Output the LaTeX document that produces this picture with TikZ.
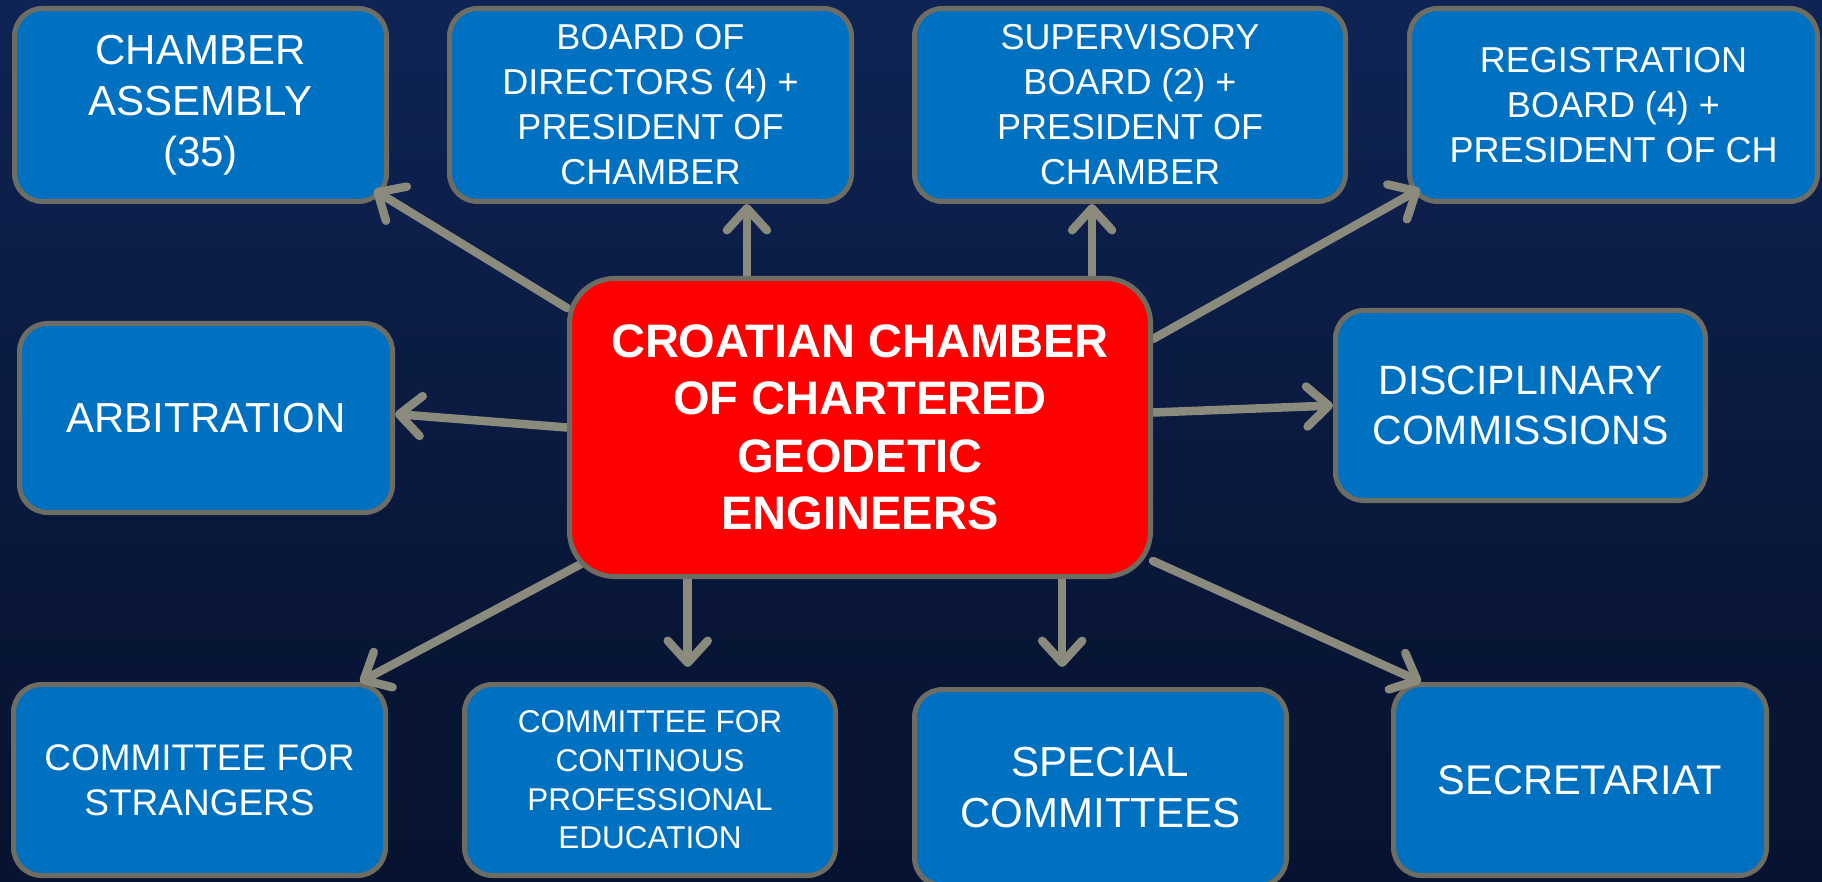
\documentclass[tikz,border=0pt]{standalone}
\usepackage{fontspec}
\setmainfont{Liberation Sans}
\usetikzlibrary{arrows.meta,calc}
\definecolor{boxblue}{HTML}{0070C0}
\definecolor{bordergray}{HTML}{6E6D63}
\definecolor{arrowgray}{HTML}{8A8A7D}
\definecolor{bgtop}{HTML}{14306A}
\definecolor{bgmid}{HTML}{0E2250}
\definecolor{bgbot}{HTML}{050E26}
\definecolor{ctrred}{HTML}{FF0000}
\pgfdeclarelayer{bg}
\pgfdeclarelayer{boxes}
\pgfdeclarelayer{arrows}
\pgfsetlayers{bg,boxes,arrows,main}
\pgfdeclareverticalshading{bgshade}{100bp}{color(0bp)=(bgbot); color(40bp)=(bgbot!60!bgmid); color(70bp)=(bgmid); color(100bp)=(bgtop)}
\tikzset{
  box/.style={draw=bordergray, line width=5pt, fill=boxblue, rounded corners=28pt,
    text=white, align=center, inner sep=0pt, font=\fontsize{36}{45}\selectfont},
  bigtext/.style={font=\fontsize{42}{51}\selectfont},
  centre/.style={draw=bordergray, line width=5pt, fill=ctrred, rounded corners=45pt,
    text=white, align=center, inner sep=0pt, font=\fontsize{47}{57.5}\selectfont\bfseries},
  arr/.style={draw=arrowgray, line width=8.5pt, line cap=round,
    -{Straight Barb[length=22pt,width=40pt,round]}}
}
\begin{document}
\begin{tikzpicture}[x=1pt,y=-1pt]
\useasboundingbox (0,0) rectangle (1822,882);
\begin{pgfonlayer}{bg}
  \shade[shading=bgshade] (0,0) rectangle (1822,882);
\end{pgfonlayer}
\begin{pgfonlayer}{boxes}
  \node[box, bigtext, minimum width=372pt, minimum height=193pt] (ca) at (200.5,105) {CHAMBER\\ASSEMBLY\\(35)};
  \node[box, minimum width=402pt, minimum height=193pt] (bod) at (650.5,105) {BOARD OF\\DIRECTORS (4) +\\PRESIDENT OF\\CHAMBER};
  \node[box, minimum width=431pt, minimum height=193pt] (sup) at (1130,105) {SUPERVISORY\\BOARD (2) +\\PRESIDENT OF\\CHAMBER};
  \node[box, minimum width=408pt, minimum height=193pt] (reg) at (1613.5,105) {REGISTRATION\\BOARD (4) +\\PRESIDENT OF CH};
  \node[box, bigtext, minimum width=373pt, minimum height=189pt] (arb) at (206,418) {ARBITRATION};
  \node[box, font=\fontsize{41}{50}\selectfont, minimum width=370pt, minimum height=190pt] (dis) at (1520.5,405.5) {DISCIPLINARY\\COMMISSIONS};
  \node[box, font=\fontsize{37}{45}\selectfont, minimum width=372pt, minimum height=191pt] (cfs) at (199.5,780) {COMMITTEE FOR\\STRANGERS};
  \node[box, font=\fontsize{31.5}{38.7}\selectfont, minimum width=371pt, minimum height=191pt] (cpe) at (650,780) {COMMITTEE FOR\\CONTINOUS\\PROFESSIONAL\\EDUCATION};
  \node[box, bigtext, minimum width=372pt, minimum height=196pt] (spe) at (1100.5,787.5) {SPECIAL\\COMMITTEES};
  \node[box, font=\fontsize{41.5}{50}\selectfont, minimum width=373pt, minimum height=191pt] (sec) at (1580,780) {SECRETARIAT};
\end{pgfonlayer}
\node[centre, minimum width=581pt, minimum height=298pt] (ctr) at (860,427.5) {CROATIAN CHAMBER\\OF CHARTERED\\GEODETIC\\ENGINEERS};
\begin{pgfonlayer}{arrows}
  \coordinate (sbod) at ($(ctr.north west)!0.307!(ctr.north east)$);
  \coordinate (ssup) at ($(ctr.north west)!0.896!(ctr.north east)$);
  \coordinate (scpe) at ($(ctr.south west)!0.206!(ctr.south east)$);
  \coordinate (sspe) at ($(ctr.south west)!0.845!(ctr.south east)$);
  \draw[arr] ($(ctr.north west)+(0,32)$) -- ($(ca.south east)+(-15,-14)$);
  \draw[arr] (sbod) -- (sbod |- bod.south);
  \draw[arr] (ssup) -- (ssup |- sup.south);
  \draw[arr] ($(ctr.north east)+(0,63)$) -- ($(reg.south west)+(13,-15)$);
  \draw[arr] (ctr.west) -- ($(arb.east)+(0,-4)$);
  \draw[arr] ($(ctr.east)+(0,-15)$) -- (dis.west);
  \draw[arr] ($(ctr.south west)+(14,-15)$) -- ($(cfs.north east)+(-28,0)$);
  \draw[arr] (scpe) -- ($(scpe |- cpe.north)+(0,-15)$);
  \draw[arr] (sspe) -- ($(sspe |- spe.north)+(0,-20)$);
  \draw[arr] ($(ctr.south east)+(0,-18)$) -- ($(sec.north west)+(30,0)$);
\end{pgfonlayer}
\end{tikzpicture}
\end{document}
